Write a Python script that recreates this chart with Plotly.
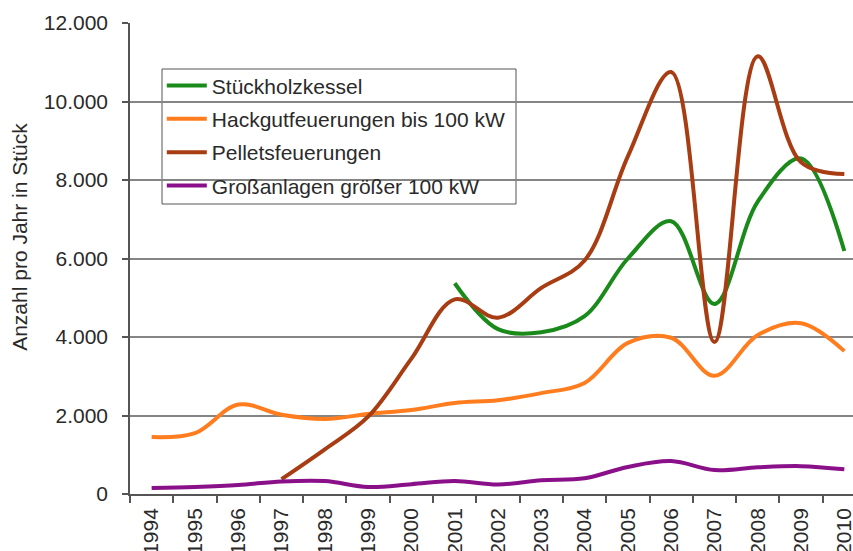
import plotly.graph_objects as go

years = [str(y) for y in range(1994, 2011)]
stueckholz = [None, None, None, None, None, None, None, 5370, 4200, 4120, 4530, 6000, 6950, 4840, 7450, 8550, 6190]
hackgut = [1450, 1550, 2280, 2020, 1910, 2040, 2140, 2320, 2390, 2570, 2830, 3850, 3980, 3010, 4050, 4350, 3640]
pellets = [None, None, None, 380, 1140, 1970, 3450, 4960, 4490, 5250, 5950, 8600, 10750, 3870, 11150, 8450, 8150]
grossanlagen = [150, 180, 230, 320, 330, 180, 250, 330, 240, 350, 400, 690, 840, 610, 680, 710, 630]

names = ["Stückholzkessel", "Hackgutfeuerungen bis 100 kW", "Pelletsfeuerungen", "Großanlagen größer 100 kW"]
colors = ["#1A8B1A", "#FF7D1E", "#A83C12", "#8A108A"]
series = [stueckholz, hackgut, pellets, grossanlagen]

FONT = "Liberation Sans, Arial, sans-serif"
TXT = "#2a2a2a"
FS = 21

fig = go.Figure()
for i, (nm, col, vals) in enumerate(zip(names, colors, series)):
    fig.add_trace(go.Scatter(
        x=years, y=vals, name=nm, mode="lines",
        line=dict(color=col, width=4, shape="spline", smoothing=1.0),
        connectgaps=False, legendgroup=f"g{i}",
    ))

# legend frame (white box covering gridlines, below traces)
fig.add_shape(
    type="rect", xref="paper", yref="paper",
    x0=32 / 723, x1=386 / 723, y0=(494 - 204) / 471, y1=(494 - 69) / 471,
    line=dict(color="#555555", width=1), fillcolor="white", layer="between",
)

fig.update_layout(
    width=853, height=551,
    margin=dict(l=130, r=0, t=23, b=57, autoexpand=False),
    paper_bgcolor="white", plot_bgcolor="white",
    separators=",.",
    font=dict(family=FONT, size=FS, color=TXT),
    showlegend=True,
    legend=dict(
        x=0.044, y=0.910, xanchor="left", yanchor="top",
        bgcolor="rgba(0,0,0,0)", borderwidth=0,
        font=dict(family=FONT, size=FS, color=TXT),
        tracegroupgap=3, traceorder="grouped", itemwidth=40,
    ),
    xaxis=dict(
        type="category", range=[-0.5, 16.2], automargin=False,
        showgrid=False, showline=True, linecolor="#555555", linewidth=1.5,
        ticks="outside", tickson="boundaries", ticklen=7, tickcolor="#555555", tickwidth=1.5,
        tickangle=-90, tickfont=dict(family=FONT, size=FS, color=TXT),
        ticklabelstandoff=4,
    ),
    yaxis=dict(
        range=[0, 12000], dtick=2000, tickformat=",d", automargin=False,
        showgrid=True, gridcolor="#858585", gridwidth=1.5,
        showline=True, linecolor="#555555", linewidth=1.5,
        ticks="outside", ticklen=6, tickcolor="#555555", tickwidth=1.5,
        tickfont=dict(family=FONT, size=FS, color=TXT),
        ticklabelstandoff=10, zeroline=False,
    ),
    annotations=[dict(
        text="Anzahl pro Jahr in Stück", xref="paper", yref="paper",
        x=0, y=0.546, xanchor="center", yanchor="middle", xshift=-110,
        textangle=-90, showarrow=False,
        font=dict(family=FONT, size=FS, color=TXT),
    )],
)

fig.write_html(
    "out.html",
    config={"displayModeBar": False},
    post_script="document.body.style.margin='0';document.body.style.overflow='hidden';",
)
